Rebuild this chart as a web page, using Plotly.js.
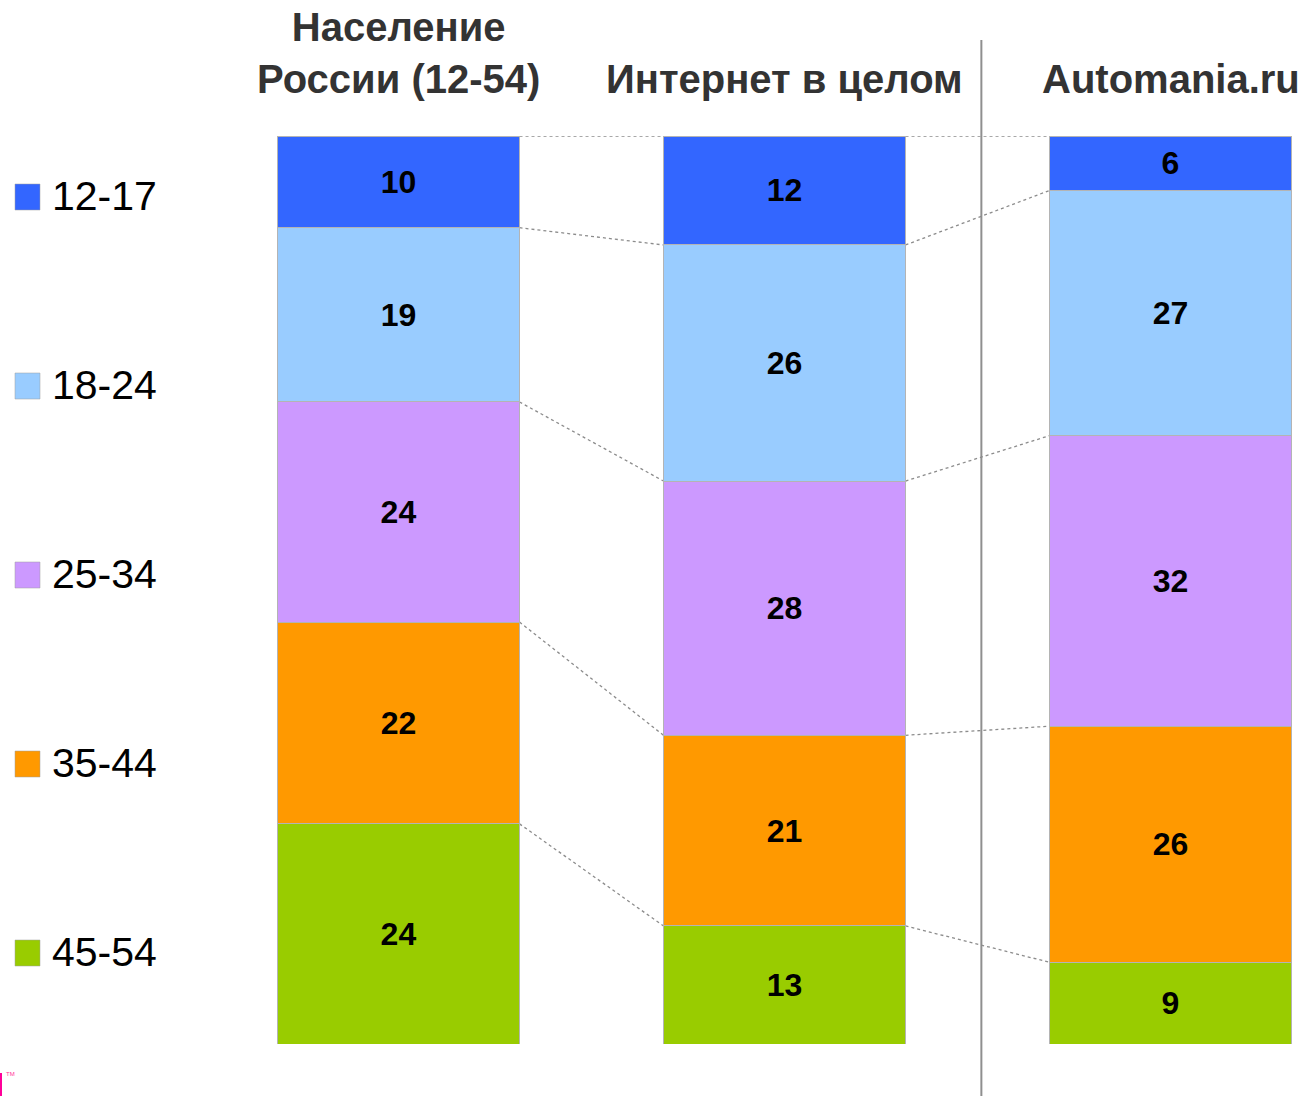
<!DOCTYPE html>
<html>
<head>
<meta charset="utf-8">
<script src="https://cdn.plot.ly/plotly-3.0.1.min.js"></script>
<style>html,body{margin:0;padding:0;background:#fff;}#chart{width:1305px;height:1096px;}</style>
</head>
<body>
<div id="chart"></div>
<script>
// ---- data ----
var columns = ['Население<br>России (12-54)', 'Интернет в целом', 'Automania.ru'];
var ageGroups = ['12-17', '18-24', '25-34', '35-44', '45-54'];
var age1217 = [10, 12, 6];
var age1824 = [19, 26, 27];
var age2534 = [24, 28, 32];
var age3544 = [22, 21, 26];
var age4554 = [24, 13, 9];
var groupColors = ['#3366FF', '#99CCFF', '#CC99FF', '#FF9900', '#99CC00'];

var series = [age1217, age1824, age2534, age3544, age4554];
var xIdx = columns.map(function (c, i) { return i; });

// ---- layout helpers ----
var W = 1305, H = 1096, MT = 136, MB = 52;
var plotH = H - MT - MB;
function py(p) { return (H - MB - p) / plotH; }  // pixel y -> paper y
function px(p) { return p / W; }                 // pixel x -> paper x
var barWidth = 0.627;
var FONT = 'Liberation Sans, Arial, sans-serif';

var traces = series.map(function (vals, g) {
  return {
    type: 'bar',
    name: ageGroups[g],
    x: xIdx,
    y: vals,
    width: barWidth,
    text: vals.map(String),
    texttemplate: '%{text}',
    textposition: 'inside',
    insidetextanchor: 'middle',
    textangle: 0,
    constraintext: 'none',
    textfont: {family: FONT, size: 32, color: '#000000', weight: 'bold'},
    marker: {color: groupColors[g], line: {color: '#b4b4b4', width: 1}},
    showlegend: false,
    hoverinfo: 'skip'
  };
});

// cumulative (normalised to 100) boundaries per column
var totals = xIdx.map(function (i) {
  return series.reduce(function (s, v) { return s + v[i]; }, 0);
});
function boundary(col, k) { // k groups above the boundary
  var s = 0;
  for (var g = 0; g < k; g++) s += series[g][col];
  return s / totals[col] * 100;
}

var shapes = [];
// dotted connectors between neighbouring columns
for (var i = 0; i < columns.length - 1; i++) {
  for (var k = 0; k < ageGroups.length; k++) {
    shapes.push({
      type: 'line', xref: 'x', yref: 'y',
      x0: i + barWidth / 2, y0: boundary(i, k),
      x1: i + 1 - barWidth / 2, y1: boundary(i + 1, k),
      line: {color: '#8c8c8c', width: 1.3, dash: 'dot'},
      layer: 'below'
    });
  }
}
// vertical separator
shapes.push({
  type: 'line', xref: 'x', yref: 'paper',
  x0: 1.51, x1: 1.51, y0: py(1096), y1: py(40),
  line: {color: '#8f8f8f', width: 2},
  layer: 'below'
});

var annotations = [];
// column headers
columns.forEach(function (c, i) {
  annotations.push({
    xref: 'x', yref: 'paper', x: i, y: py(103),
    xanchor: 'center', yanchor: 'bottom',
    text: c, showarrow: false, align: 'center',
    font: {family: FONT, size: 40, color: '#333333', weight: 'bold'}
  });
});
// legend (left)
ageGroups.forEach(function (a, g) {
  var cy = 197 + g * 189;
  shapes.push({
    type: 'rect', xref: 'paper', yref: 'paper',
    x0: px(15), x1: px(40), y0: py(cy + 13), y1: py(cy - 13),
    fillcolor: groupColors[g], line: {color: 'rgba(160,160,160,0.5)', width: 1}
  });
  annotations.push({
    xref: 'paper', yref: 'paper', x: px(50), y: py(cy - 1),
    xanchor: 'left', yanchor: 'middle', text: a, showarrow: false,
    font: {family: FONT, size: 41, color: '#000000'}
  });
});
// small logo remnant bottom-left
shapes.push({
  type: 'rect', xref: 'paper', yref: 'paper',
  x0: 0, x1: px(2), y0: py(1096), y1: py(1073),
  fillcolor: '#ff0099', line: {width: 0}
});
annotations.push({
  xref: 'paper', yref: 'paper', x: px(4), y: py(1074),
  xanchor: 'left', yanchor: 'middle', text: 'TM', showarrow: false,
  font: {family: FONT, size: 6, color: '#ff3399'}
});

var layout = {
  width: W, height: H,
  margin: {l: 0, r: 0, t: MT, b: MB, pad: 0},
  paper_bgcolor: '#ffffff', plot_bgcolor: '#ffffff',
  barmode: 'stack', barnorm: 'percent',
  xaxis: {type: 'linear', range: [-1.0324, 2.3484], visible: false, fixedrange: true},
  yaxis: {range: [100, 0], visible: false, fixedrange: true},
  shapes: shapes,
  annotations: annotations,
  showlegend: false
};

Plotly.newPlot('chart', traces, layout, {staticPlot: true});
</script>
</body>
</html>
